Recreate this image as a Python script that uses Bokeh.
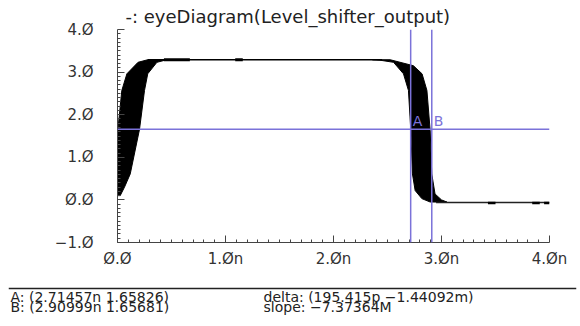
from bokeh.plotting import figure
from bokeh.models import Range1d, FixedTicker, Span, Label
from bokeh.layouts import column
from bokeh.core.properties import value
from bokeh.embed import file_html
from bokeh.resources import INLINE

# ---------------- data (time in ns, voltage in V) ----------------
title_text = "-:  eyeDiagram(Level_shifter_output)"

x_ticks = [0, 1, 2, 3, 4]
x_tick_labels = ["Ø.Ø", "1.Øn", "2.Øn", "3.Øn", "4.Øn"]
y_ticks = [-1, 0, 1, 2, 3, 4]
y_tick_labels = ["−1.Ø", "Ø.Ø", "1.Ø", "2.Ø", "3.Ø", "4.Ø"]

# rising-edge band outline (left edge up, then right edge down)
rise_t = [0.0, 0.0, 0.004, 0.04, 0.087, 0.19, 0.28, 0.457, 0.365, 0.28, 0.25, 0.204, 0.118, 0.065, 0.025]
rise_v = [0.10, 0.38, 1.66, 2.57, 2.96, 3.23, 3.29, 3.29, 3.23, 2.96, 2.57, 1.66, 0.61, 0.30, 0.10]

# falling-edge band outline
fall_t = [2.36, 2.525, 2.74, 2.82, 2.865, 2.895, 2.91, 2.94, 3.0, 3.05, 2.895, 2.818, 2.756, 2.731, 2.716, 2.694, 2.648, 2.556, 2.43]
fall_v = [3.29, 3.29, 3.15, 2.96, 2.57, 1.63, 0.61, 0.14, 0.0, -0.05, -0.05, 0.03, 0.22, 0.61, 1.63, 2.57, 2.96, 3.23, 3.28]

# settled levels
high_t = [0.28, 2.45]
high_v = [3.29, 3.29]
low_t = [2.95, 4.0]
low_v = [-0.06, -0.06]

# small thicker glitches on the settled levels
high_blip_t0 = [0.43, 1.09]
high_blip_t1 = [0.67, 1.16]
high_blip_v = [3.29, 3.29]
low_blip_t0 = [3.43, 3.84, 3.95]
low_blip_t1 = [3.50, 3.91, 4.0]
low_blip_v = [-0.075, -0.075, -0.075]

# cursors
cursor_names = ["A", "B"]
cursor_t = [2.71457, 2.90999]
cursor_v = [1.65826, 1.65681]

readout_left = ["A: (2.71457n 1.65826)", "B: (2.90999n 1.65681)"]
readout_right = ["delta: (195.415p −1.44092m)", "slope: −7.37364M"]

# ---------------- styling ----------------
FONT = "DejaVu Sans"
CURSOR = "#7b72d9"
TXT = "#333333"

p = figure(width=580, height=280, x_range=Range1d(0, 4), y_range=Range1d(-1, 4),
           output_backend="svg", toolbar_location=None,
           min_border_left=117, min_border_right=31, min_border_top=29, min_border_bottom=38)
p.outline_line_color = None
p.grid.visible = False
p.background_fill_color = "white"
p.border_fill_color = "white"

p.title.text = title_text
p.title.align = "left"
p.title.offset = 8
p.title.standoff = 6
p.title.text_font = FONT
p.title.text_font_size = "18px"
p.title.text_font_style = "normal"
p.title.text_color = "#222222"

xminor = [i / 10 for i in range(0, 41) if i % 10 != 0]
yminor = [-1 + i / 10 for i in range(0, 51) if i % 10 != 0]

for ax, ticks, labels, minor in [(p.xaxis[0], x_ticks, x_tick_labels, xminor),
                                 (p.yaxis[0], y_ticks, y_tick_labels, yminor)]:
    ax.ticker = FixedTicker(ticks=ticks, minor_ticks=minor)
    ax.major_label_overrides = {t: l for t, l in zip(ticks, labels)}
    ax.major_tick_in = 7
    ax.major_tick_out = 0
    ax.minor_tick_in = 3
    ax.minor_tick_out = 0
    ax.axis_line_color = "#444444"
    ax.major_tick_line_color = "#444444"
    ax.minor_tick_line_color = "#444444"
    ax.major_label_text_font = FONT
    ax.major_label_text_font_size = "15px"
    ax.major_label_text_color = TXT

p.xaxis[0].major_label_standoff = 7
p.yaxis[0].major_label_standoff = 24

# eye diagram
p.patch(rise_t, rise_v, fill_color="black", line_color="black", line_width=1)
p.patch(fall_t, fall_v, fill_color="black", line_color="black", line_width=1)
p.line(high_t, high_v, line_color="black", line_width=1.6)
p.line(low_t, low_v, line_color="#222222", line_width=1.6)
p.segment(x0=high_blip_t0, y0=high_blip_v, x1=high_blip_t1, y1=high_blip_v, line_color="black", line_width=3)
p.segment(x0=low_blip_t0, y0=low_blip_v, x1=low_blip_t1, y1=low_blip_v, line_color="black", line_width=2.5)

# cursors
for t in cursor_t:
    p.add_layout(Span(location=t, dimension="height", line_color=CURSOR, line_width=1.5))
p.add_layout(Span(location=cursor_v[0], dimension="width", line_color=CURSOR, line_width=1.5))
p.text(x=cursor_t, y=cursor_v, text=cursor_names, x_offset=2, y_offset=0,
       text_baseline="bottom", text_align="left", text_font=value(FONT),
       text_font_size="14px", text_color=CURSOR)

# readout panel
p2 = figure(width=580, height=46, x_range=Range1d(0, 568), y_range=Range1d(0, 46),
            output_backend="svg", toolbar_location=None, x_axis_type=None, y_axis_type=None,
            min_border_left=8, min_border_right=4, min_border_top=0, min_border_bottom=0)
if "frame_align" in p2.properties():
    p2.frame_align = False
    p.frame_align = False
p2.outline_line_color = None
p2.grid.visible = False
p2.add_layout(Span(location=38, dimension="width", line_color="#222222", line_width=1.5))
for i, (a, b) in enumerate(zip(readout_left, readout_right)):
    yy = 30 - 10 * i
    p2.add_layout(Label(x=2, y=yy, x_units="screen", y_units="screen", text=a,
                        text_font=FONT, text_font_size="14px", text_color="#222222",
                        text_baseline="middle"))
    p2.add_layout(Label(x=255, y=yy, x_units="screen", y_units="screen", text=b,
                        text_font=FONT, text_font_size="14px", text_color="#222222",
                        text_baseline="middle"))

layout = column(p, p2, spacing=0)
open("out.html", "w").write(file_html(layout, INLINE))
